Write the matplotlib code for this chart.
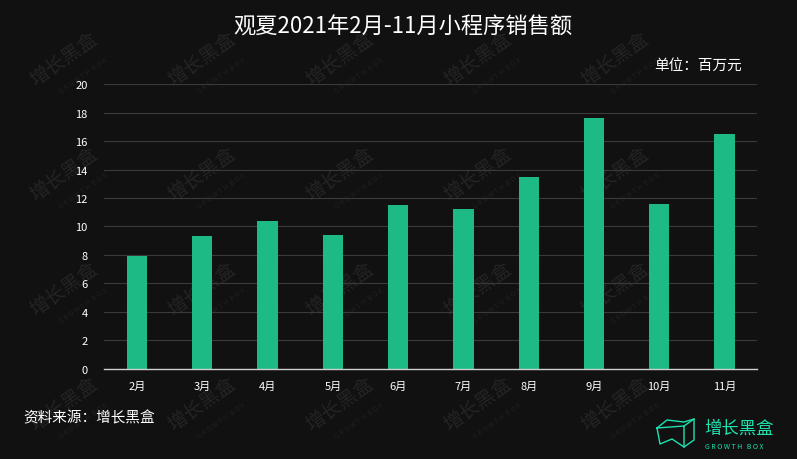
import matplotlib.pyplot as plt
import numpy as np

plt.rcParams['font.family'] = ['Noto Sans CJK SC', 'DejaVu Sans']

# data
months = ["2月", "3月", "4月", "5月", "6月", "7月", "8月", "9月", "10月", "11月"]
sales = [7.9, 9.3, 10.4, 9.4, 11.5, 11.2, 13.5, 17.6, 11.6, 16.5]
yticks = [0, 2, 4, 6, 8, 10, 12, 14, 16, 18, 20]

bg = "#111111"
bar_color = "#1dba85"
logo_color = "#1de3b0"

fig = plt.figure(figsize=(7.97, 4.60), dpi=100, facecolor=bg)

# faint watermarks, kept inside the figure and behind the plot
for wx in np.arange(0.08, 0.9, 0.173):
    for wy in np.arange(0.12, 0.95, 0.25):
        fig.text(wx, wy, "增长黑盒", color="#242424", fontsize=14,
                 rotation=35, ha="center", va="center", zorder=0)
        fig.text(wx + 0.025, wy - 0.035, "G R O W T H  B O X", color="#202020",
                 fontsize=5, rotation=35, ha="center", va="center", zorder=0)

ax = fig.add_axes([0.131, 0.196, 0.819, 0.619])
ax.set_zorder(2)
ax.set_facecolor("none")
x = np.arange(len(months))
ax.bar(x, sales, width=0.31, color=bar_color, zorder=3)

ax.set_xlim(-0.5, len(months) - 0.5)
ax.set_ylim(0, 20)
ax.set_yticks(yticks)
ax.set_xticks(x)
ax.set_xticklabels(months)
ax.tick_params(axis="both", colors="white", labelsize=8, length=0)
ax.tick_params(axis="x", pad=9)
ax.tick_params(axis="y", pad=12)
ax.grid(axis="y", color="#3a3a3a", linewidth=0.8, zorder=0)
for side in ["top", "right", "left"]:
    ax.spines[side].set_visible(False)
ax.spines["bottom"].set_color("#d0d0d0")
ax.spines["bottom"].set_linewidth(1.0)
ax.spines["bottom"].set_zorder(4)

fig.text(0.505, 0.94, "观夏2021年2月-11月小程序销售额", color="white", fontsize=16,
         ha="center", va="center", zorder=3)
fig.text(0.931, 0.857, "单位：百万元", color="white", fontsize=10.5,
         ha="right", va="center", zorder=3)
fig.text(0.029, 0.09, "资料来源：增长黑盒", color="white", fontsize=10.5,
         ha="left", va="center", zorder=3)

# logo
fig.text(0.884, 0.068, "增长黑盒", color=logo_color, fontsize=12.5,
         ha="left", va="center", zorder=3)
fig.text(0.885, 0.028, "G R O W T H   B O X", color=logo_color, fontsize=5,
         ha="left", va="center", zorder=3)
icon = [(657, 429), (667, 421), (684, 423), (694, 420), (694, 441), (684, 448),
        (672, 440), (660, 445), (657, 429)]
fig.lines.append(plt.Line2D([p[0] / 797 for p in icon], [1 - p[1] / 460 for p in icon],
                            transform=fig.transFigure, color=logo_color, linewidth=1))
fig.lines.append(plt.Line2D([684 / 797, 684 / 797, 694 / 797],
                            [1 - 448 / 460, 1 - 427 / 460, 1 - 420 / 460],
                            transform=fig.transFigure, color=logo_color, linewidth=1))
fig.lines.append(plt.Line2D([657 / 797, 684 / 797], [1 - 429 / 460, 1 - 427 / 460],
                            transform=fig.transFigure, color=logo_color, linewidth=1))

fig.savefig("out.png", dpi=100, facecolor=bg)
